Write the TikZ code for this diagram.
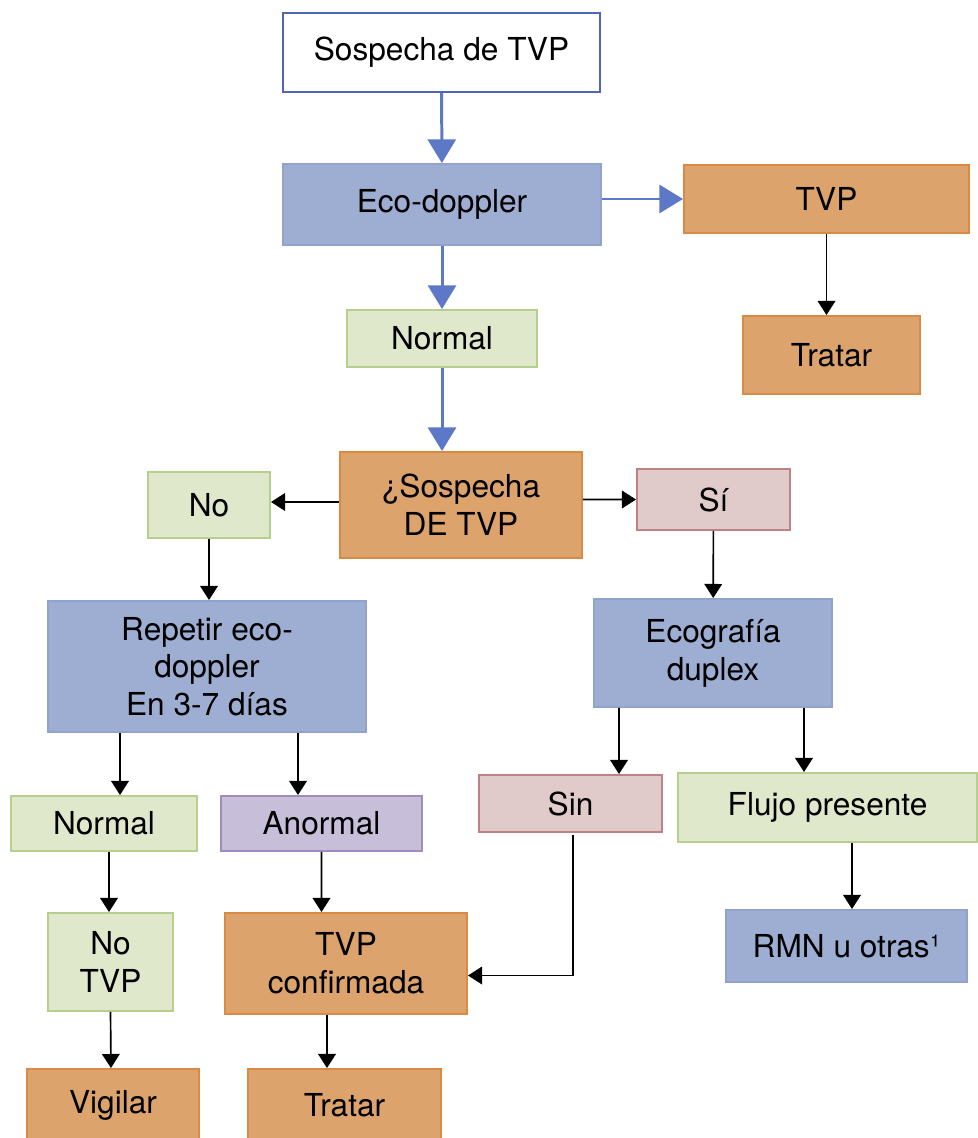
\documentclass[tikz,border=0pt]{standalone}
\usepackage{fontspec}
\setmainfont{TeX Gyre Heros}
\usepackage{tikz}
\usetikzlibrary{calc,positioning,arrows.meta}
\definecolor{bluebox}{HTML}{9DAED2}
\definecolor{blueline}{HTML}{8FA3CC}
\definecolor{bluearr}{HTML}{5E78C8}
\definecolor{topline}{HTML}{5066B2}
\definecolor{orangebox}{HTML}{DDA36C}
\definecolor{orangeline}{HTML}{D98A44}
\definecolor{greenbox}{HTML}{E0E8CC}
\definecolor{greenline}{HTML}{B7CF8D}
\definecolor{pinkbox}{HTML}{E1CACA}
\definecolor{pinkline}{HTML}{BE8286}
\definecolor{lilacbox}{HTML}{C7BFD9}
\definecolor{lilacline}{HTML}{9F8CBE}

\begin{document}
\begin{tikzpicture}[x=0.02cm,y=-0.02cm,
		box/.style={rectangle,line width=1.1pt,inner sep=0pt,align=center,font=\fontsize{18}{21.5}\selectfont},
		wh/.style 2 args={minimum width=#1*0.02cm,minimum height=#2*0.02cm},
		whitebox/.style={box,draw=topline,fill=white},
		bluebx/.style={box,draw=blueline,fill=bluebox},
		orangebx/.style={box,draw=orangeline,fill=orangebox},
		greenbx/.style={box,draw=greenline,fill=greenbox},
		pinkbx/.style={box,draw=pinkline,fill=pinkbox},
		lilacbx/.style={box,draw=lilacline,fill=lilacbox},
		blueflow/.style={draw=bluearr,line width=1.7pt,-{Triangle[length=13.5pt,width=16pt]}},
		blackflow/.style={draw=black,line width=0.95pt,-{Triangle[length=8pt,width=10pt]}}]
		\useasboundingbox (0,0) rectangle (977,1138);
		% top part
		\node(1) [whitebox,wh={317}{79}] at (441.5,52.5) {Sospecha de TVP};
		\node(2) [bluebx,wh={318}{81}] at (442,204.5) {Eco-doppler};
		\node(3) [orangebx,wh={285}{68}] at (826.5,199) {TVP};
		\node(4) [orangebx,wh={177}{78}] at (831.5,355) {Tratar};
		\node(5) [greenbx,wh={190}{57}] at (442,338.5) {Normal};
		\node(6) [orangebx,wh={242}{106}] at (461,505) {¿Sospecha\\DE TVP};
		\node(7) [greenbx,wh={122}{66}] at (209,505) {No};
		\node(8) [pinkbx,wh={153}{61}] at (713.5,499.5) {Sí};
		% middle part
		\node(9) [bluebx,wh={318}{131}] at (207,666.5) {Repetir eco-\\doppler\\En 3-7 días};
		\node(10) [bluebx,wh={238}{108}] at (713,653) {Ecografía\\duplex};
		\node(11) [greenbx,wh={186}{55}] at (104,823.5) {Normal};
		\node(12) [lilacbx,wh={201}{55}] at (321.5,823.5) {Anormal};
		\node(13) [pinkbx,wh={183}{57}] at (570.5,803.5) {Sin};
		\node(14) [greenbx,wh={299}{69}] at (827.5,807.5) {Flujo presente};
		% bottom part
		\node(15) [greenbx,wh={125}{98}] at (110.5,962) {No\\TVP};
		\node(16) [orangebx,wh={242}{101}] at (346,963.5) {TVP\\confirmada};
		\node(17) [bluebx,wh={241}{72}] at (846.5,946) {RMN u otras¹};
		\node(18) [orangebx,wh={172}{72}] at (113,1105) {Vigilar};
		\node(19) [orangebx,wh={193}{72}] at (344.5,1105) {Tratar};
		\path
			(1) edge[blueflow] (2)
			(2) edge[blueflow] (5)
			($(2.east)+(0,-5.5)$) edge[blueflow] (3.west)
			(5.south) edge[blueflow] (5.south |- 6.north);
		\path
			(3.south) edge[blackflow] (3.south |- 4.north)
			($(6.west)+(0,-3)$) edge[blackflow] ($(7.east)+(0,-3)$)
			($(6.east)+(0,-5.5)$) edge[blackflow] (8.west)
			(7.south) edge[blackflow] (7.south |- 9.north)
			(8) edge[blackflow] (10)
			($(9.south)+(-87,0)$) edge[blackflow] ($(11.north)+(16,0)$)
			($(9.south)+(91,0)$) edge[blackflow] ($(12.north)+(-23.5,0)$)
			($(10.south)+(-94,0)$) edge[blackflow] ($(13.north)+(48.5,0)$)
			($(10.south)+(91,0)$) edge[blackflow] ($(14.north)+(-23.5,0)$)
			($(11.south)+(5,0)$) edge[blackflow] ($(15.north)+(-1.5,0)$)
			(12.south) edge[blackflow] ($(16.north)+(-24.5,0)$)
			($(14.south)+(24.5,0)$) edge[blackflow] ($(17.north)+(5.5,0)$)
			(15.south) edge[blackflow] ($(18.north)+(-2,0)$)
			($(16.south)+(-19,0)$) edge[blackflow] ($(19.north)+(-17.5,0)$);
		\draw[blackflow] ($(13.south)+(2.5,2)$) |- ($(16.east)+(0,12)$);
	\end{tikzpicture}
\end{document}
